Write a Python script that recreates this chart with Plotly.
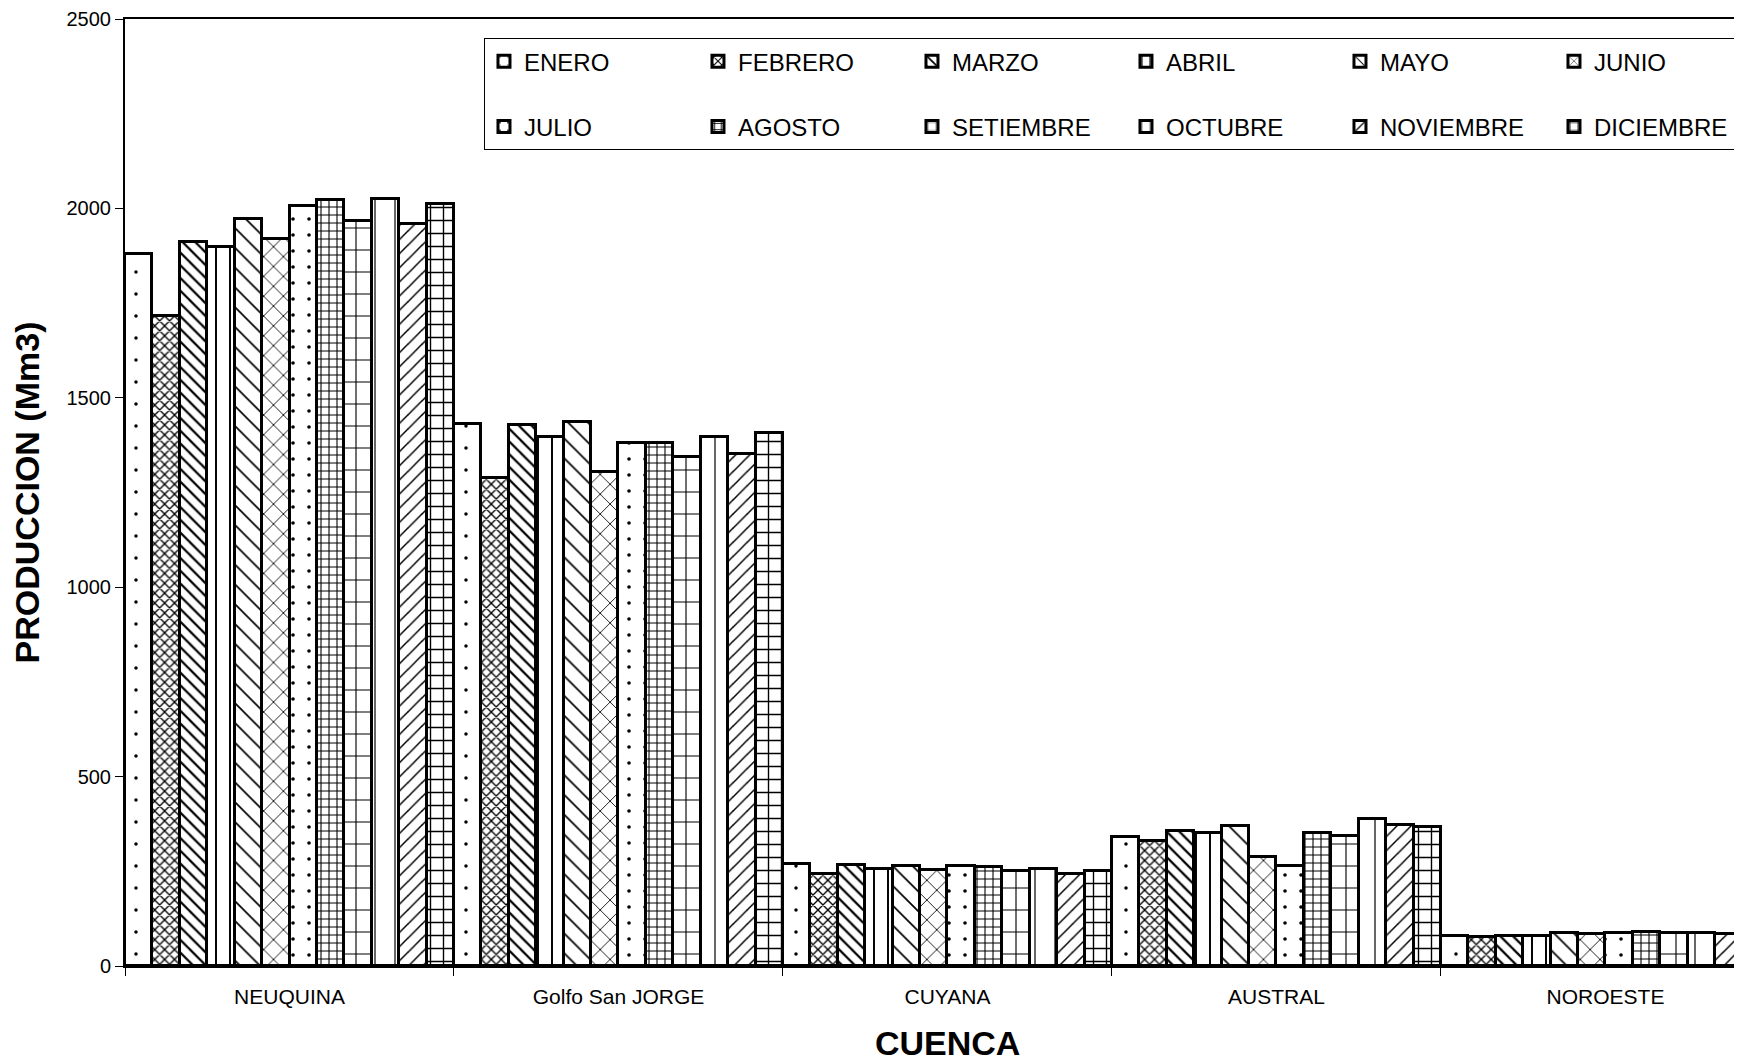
import plotly.graph_objects as go

cuencas = ["NEUQUINA", "Golfo San JORGE", "CUYANA", "AUSTRAL", "NOROESTE"]
meses = ["ENERO", "FEBRERO", "MARZO", "ABRIL", "MAYO", "JUNIO",
         "JULIO", "AGOSTO", "SETIEMBRE", "OCTUBRE", "NOVIEMBRE", "DICIEMBRE"]

# Producción (Mm3) por mes, en el orden de las cuencas
enero      = [1880, 1430, 269, 340, 78]
febrero    = [1716, 1288, 243, 331, 76]
marzo      = [1912, 1429, 267, 356, 78]
abril      = [1899, 1397, 256, 350, 80]
mayo       = [1971, 1437, 265, 370, 86]
junio      = [1919, 1305, 254, 287, 85]
julio      = [2007, 1381, 263, 265, 88]
agosto     = [2022, 1381, 262, 350, 90]
setiembre  = [1968, 1345, 251, 342, 86]
octubre    = [2025, 1396, 256, 388, 86]
noviembre  = [1960, 1351, 243, 371, 85]
diciembre  = [2012, 1407, 251, 368, 84]

series = [enero, febrero, marzo, abril, mayo, junio,
          julio, agosto, setiembre, octubre, noviembre, diciembre]

patterns = [
    dict(shape=".", size=22, solidity=0.02),
    dict(shape="x", size=7, solidity=0.35),
    dict(shape="\\", size=9, solidity=0.25),
    dict(shape="|", size=14, solidity=0.14),
    dict(shape="\\", size=14, solidity=0.12),
    dict(shape="x", size=14, solidity=0.12),
    dict(shape=".", size=16, solidity=0.04),
    dict(shape="+", size=8, solidity=0.25),
    dict(shape="+", size=22, solidity=0.1),
    dict(shape="|", size=20, solidity=0.06),
    dict(shape="/", size=10, solidity=0.15),
    dict(shape="+", size=13, solidity=0.2),
]

FONT = "Arial, Liberation Sans, sans-serif"

fig = go.Figure()
for i, (name, vals, pat) in enumerate(zip(meses, series, patterns)):
    # first legend row gets an extra blank line for taller row spacing
    label = name + "<br> " if i < 6 else name
    fig.add_trace(go.Bar(
        x=cuencas, y=vals, name=label, legendgroup="col%d" % (i % 6),
        hovertemplate=name + ": %{y}<extra>%{x}</extra>",
        marker=dict(color="white",
                    line=dict(color="black", width=3),
                    pattern=dict(fgcolor="black", bgcolor="white",
                                 fillmode="replace", **pat)),
    ))

fig.update_layout(
    width=1734, height=1054,
    paper_bgcolor="white", plot_bgcolor="white",
    margin=dict(l=117, r=0, t=11, b=96, autoexpand=False),
    barmode="group", bargap=0, bargroupgap=0,
    font=dict(family=FONT, color="black"),
    showlegend=True,
    legend=dict(
        orientation="h", xref="container", yref="container",
        x=0.2745, y=0.9715, xanchor="left", yanchor="top",
        bgcolor="white", bordercolor="black", borderwidth=1,
        font=dict(size=24, family=FONT, color="black"),
        entrywidth=169, entrywidthmode="pixels",
        itemwidth=30, traceorder="grouped", valign="top",
        tracegroupgap=0,
    ),
    xaxis=dict(
        type="category", range=[-0.5, 4.415],
        showline=True, linecolor="black", linewidth=2, mirror=True,
        ticks="outside", ticklen=8, tickwidth=1, tickcolor="black",
        tickson="boundaries", showgrid=False, ticklabelstandoff=11,
        tickfont=dict(size=21, family=FONT),
        title=dict(text="&nbsp;&nbsp;&nbsp;<b>CUENCA</b>",
                   font=dict(size=34, family=FONT), standoff=26),
    ),
    yaxis=dict(
        range=[0, 2500], dtick=500, tick0=0,
        showline=True, linecolor="black", linewidth=2,
        ticks="outside", ticklen=8, tickwidth=1, tickcolor="black",
        showgrid=False, zeroline=False,
        tickfont=dict(size=20, family=FONT),
        title=dict(text="<b>PRODUCCION (Mm3)</b>", font=dict(size=34, family=FONT),
                   standoff=27),
    ),
)

fig.write_html("out.html")
